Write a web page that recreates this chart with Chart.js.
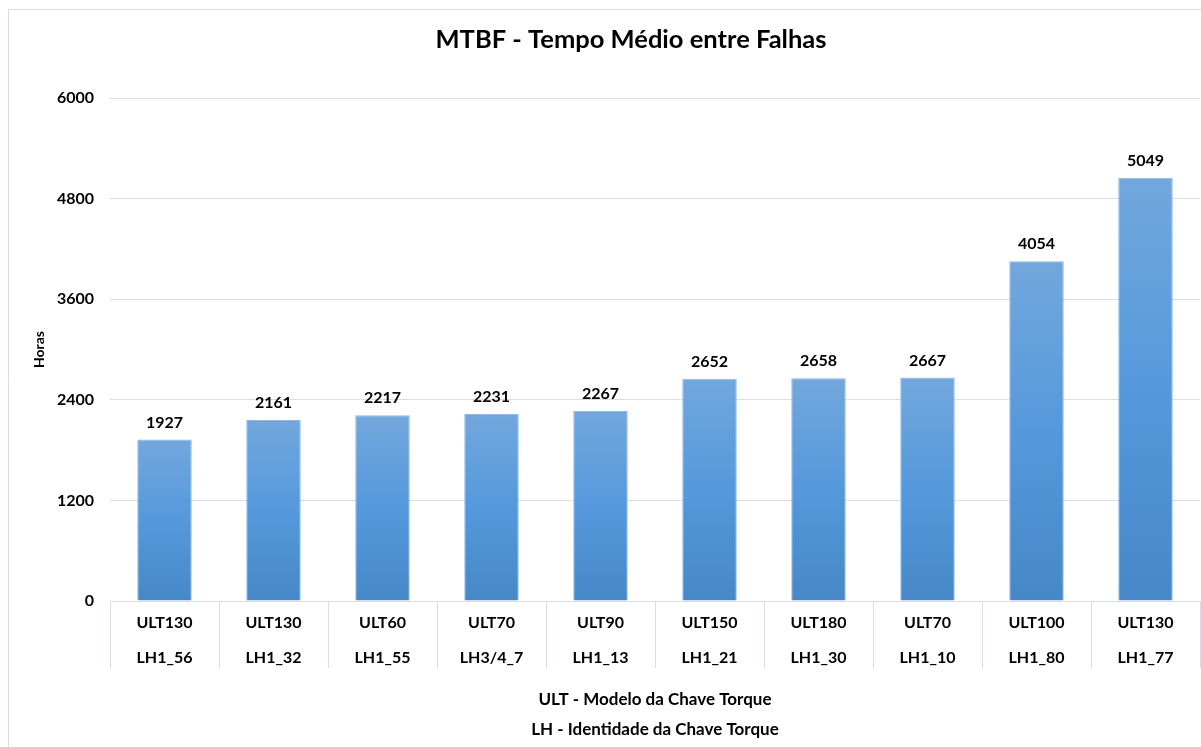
<!DOCTYPE html>
<html>
<head>
<meta charset="utf-8">
<script src="https://cdn.jsdelivr.net/npm/chart.js@4"></script>
<style>
  html,body{margin:0;padding:0;background:#fff;}
  #wrap{width:1201px;height:747px;}
</style>
</head>
<body>
<div id="wrap"><canvas id="mtbf" width="1201" height="747"></canvas></div>
<script>
// dados do grafico
const titulo = 'MTBF - Tempo Médio entre Falhas';
const modelos = ['ULT130','ULT130','ULT60','ULT70','ULT90','ULT150','ULT180','ULT70','ULT100','ULT130'];
const chaves = ['LH1_56','LH1_32','LH1_55','LH3/4_7','LH1_13','LH1_21','LH1_30','LH1_10','LH1_80','LH1_77'];
const mtbfHoras = [1927,2161,2217,2231,2267,2652,2658,2667,4054,5049];
const yTicks = [0,1200,2400,3600,4800,6000];

const FONT = 'Lato, "Open Sans", sans-serif';
const gridColor = '#d9dee6';

// gradient per bar (lighter on top)
function barGradient(ctx){
  const chart = ctx.chart;
  const area = chart.chartArea;
  if(!area || ctx.dataIndex===undefined) return '#5b9bd5';
  const y = chart.scales.y;
  const top = y.getPixelForValue(mtbfHoras[ctx.dataIndex]);
  const bot = y.getPixelForValue(0);
  const g = chart.ctx.createLinearGradient(0, top, 0, bot);
  g.addColorStop(0, '#72a7dc');
  g.addColorStop(0.5, '#5599dc');
  g.addColorStop(1, '#4688c7');
  return g;
}

// frame, title, category separators under the axis, value labels
const extras = {
  id: 'extras',
  beforeDraw(chart){
    const c = chart.ctx;
    c.save();
    c.strokeStyle = '#d9dde3';
    c.lineWidth = 1;
    c.beginPath();
    c.moveTo(8.5, chart.height); c.lineTo(8.5, 9.5); c.lineTo(chart.width, 9.5);
    c.stroke();
    // title is centred on the whole (wider) excel frame, not on the canvas
    c.fillStyle = '#000';
    c.font = 'bold 25.5px ' + FONT;
    c.textAlign = 'center';
    c.textBaseline = 'middle';
    c.fillText(titulo, 631, 40);
    c.restore();
  },
  afterDatasetsDraw(chart){
    const c = chart.ctx, x = chart.scales.x, a = chart.chartArea;
    const bottom = a.bottom;
    const sepEnd = bottom + 67;
    c.save();
    c.strokeStyle = gridColor;
    c.lineWidth = 1;
    c.beginPath();
    c.moveTo(a.left, bottom + 0.5); c.lineTo(a.right, bottom + 0.5);
    const step = x.getPixelForValue(1) - x.getPixelForValue(0);
    for(let i=0;i<=modelos.length;i++){
      const px = Math.round(x.getPixelForValue(i) - step/2) + 0.5;
      c.moveTo(px, bottom); c.lineTo(px, sepEnd);
    }
    c.stroke();
    c.fillStyle = '#000';
    c.font = 'bold 16px ' + FONT;
    c.textAlign = 'center';
    c.textBaseline = 'middle';
    chart.getDatasetMeta(0).data.forEach((bar,i)=>{
      c.fillText(String(mtbfHoras[i]), bar.x, bar.y - 17);
    });
    c.restore();
  }
};

new Chart(document.getElementById('mtbf'), {
  type: 'bar',
  data: {
    labels: modelos.map((m,i)=>[m, chaves[i]]),
    datasets: [{
      data: mtbfHoras,
      backgroundColor: barGradient,
      borderColor: '#8db9e6',
      borderWidth: {top:1,left:1,right:1,bottom:0},
      categoryPercentage: 1,
      barPercentage: 0.5
    }]
  },
  options: {
    responsive: false,
    animation: false,
    layout: { padding: { top: 98, left: 31, right: 1, bottom: 3 } },
    plugins: {
      legend: { display: false },
      tooltip: { enabled: false },
      title: { display: false }
    },
    scales: {
      x: {
        grid: { display: false, drawTicks: false },
        border: { display: false },
        ticks: {
          color: '#000',
          font: { family: FONT, size: 16, weight: 'bold', lineHeight: 2.19 },
          padding: 4,
          maxRotation: 0,
          autoSkip: false
        },
        title: {
          display: true,
          text: ['ULT - Modelo da Chave Torque', 'LH - Identidade da Chave Torque'],
          color: '#000',
          font: { family: FONT, size: 17, weight: 'bold', lineHeight: 1.76 },
          padding: { top: 5, bottom: 0 }
        }
      },
      y: {
        min: 0,
        max: 6000,
        afterBuildTicks(scale){ scale.ticks = yTicks.map(v=>({value:v})); },
        afterFit(scale){ scale.width = 79; },
        grid: { color: gridColor, drawTicks: false },
        border: { display: false },
        ticks: {
          color: '#000',
          font: { family: FONT, size: 16, weight: 'bold' },
          padding: 16,
          callback: v => String(v)
        },
        title: {
          display: true,
          text: 'Horas',
          color: '#000',
          font: { family: FONT, size: 14, weight: 'bold' },
          padding: { top: 0, bottom: 8 }
        }
      }
    }
  },
  plugins: [extras]
});
</script>
</body>
</html>
